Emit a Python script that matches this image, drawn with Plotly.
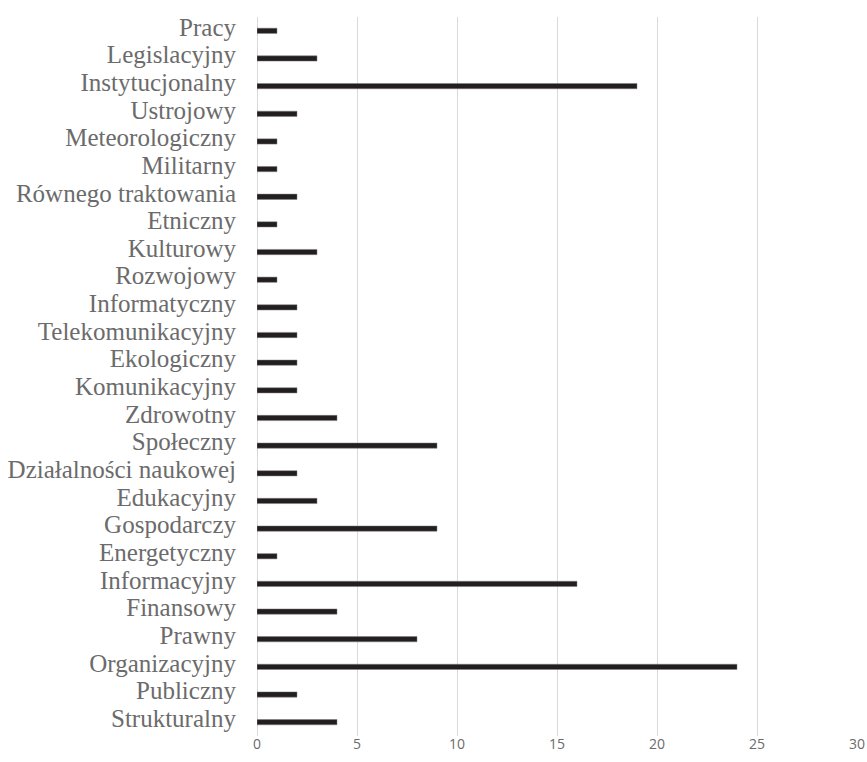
import plotly.graph_objects as go

categories = ["Pracy", "Legislacyjny", "Instytucjonalny", "Ustrojowy", "Meteorologiczny",
              "Militarny", "Równego traktowania", "Etniczny", "Kulturowy", "Rozwojowy",
              "Informatyczny", "Telekomunikacyjny", "Ekologiczny", "Komunikacyjny",
              "Zdrowotny", "Społeczny", "Działalności naukowej", "Edukacyjny",
              "Gospodarczy", "Energetyczny", "Informacyjny", "Finansowy", "Prawny",
              "Organizacyjny", "Publiczny", "Strukturalny"]
values = [1, 3, 19, 2, 1, 1, 2, 1, 3, 1, 2, 2, 2, 2, 4, 9, 2, 3, 9, 1, 16, 4, 8, 24, 2, 4]
x_ticks = [0, 5, 10, 15, 20, 25, 30]

fig = go.Figure(go.Bar(
    x=values, y=categories, orientation="h",
    marker=dict(color="#231f20", line=dict(color="#7f7f7f", width=0.5)),
))

fig.update_layout(
    width=867, height=762,
    margin=dict(l=257, r=10, t=17, b=26),
    plot_bgcolor="white", paper_bgcolor="white",
    bargap=0.81,
    showlegend=False,
)
fig.update_xaxes(
    range=[0, 30], tickmode="array", tickvals=x_ticks, showgrid=True,
    gridcolor="#d9d9d9", gridwidth=1,
    zeroline=True, zerolinecolor="#d9d9d9", zerolinewidth=1, showline=False,
    tickfont=dict(family="Open Sans", size=14, color="#6b6b6b"),
    automargin=False, ticklabelstandoff=-2,
)
fig.update_yaxes(
    categoryorder="array", categoryarray=categories, autorange="reversed",
    tickmode="array", tickvals=categories, ticktext=categories,
    showgrid=False, showline=False, zeroline=False,
    tickfont=dict(family="Liberation Serif", size=25, color="#6b6b6b"),
    ticklabelstandoff=20, ticklabelshift=4, automargin=False,
)

fig.write_html("out.html", config={"displayModeBar": False},
               post_script="document.body.style.margin='0';")
